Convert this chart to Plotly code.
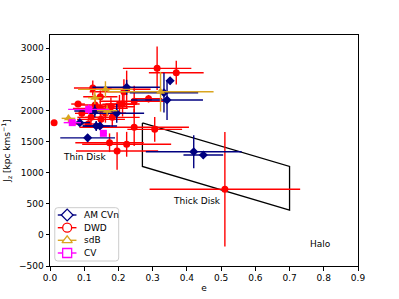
import plotly.graph_objects as go

# AM CVn
amcvn_e = [0.087, 0.110, 0.135, 0.146, 0.131, 0.195, 0.224, 0.333, 0.351, 0.342, 0.420, 0.448]
amcvn_e_err = [0.030, 0.080, 0.040, 0.050, 0.060, 0.080, 0.100, 0.100, 0.010, 0.105, 0.140, 0.058]
amcvn_J = [1805, 1560, 1750, 1750, 1992, 1955, 2373, 2286, 2479, 2169, 1337, 1284]
amcvn_J_err = [40, 60, 80, 60, 100, 150, 120, 320, 60, 320, 265, 60]

# DWD
dwd_e = [0.012, 0.082, 0.093, 0.125, 0.120, 0.112, 0.147, 0.132, 0.147, 0.149, 0.162, 0.178, 0.182,
         0.174, 0.224, 0.196, 0.216, 0.224, 0.212, 0.203, 0.246, 0.246, 0.288, 0.306, 0.313, 0.369, 0.511]
dwd_e_err = [0.000, 0.020, 0.020, 0.055, 0.040, 0.040, 0.050, 0.060, 0.080, 0.070, 0.060, 0.070, 0.080,
             0.100, 0.130, 0.120, 0.100, 0.070, 0.050, 0.050, 0.100, 0.160, 0.040, 0.080, 0.100, 0.080, 0.220]
dwd_J = [1805, 2104, 1955, 2362, 1890, 1783, 2222, 2088, 2035, 1858, 1955, 2061, 1890,
         1482, 1457, 1349, 2302, 2341, 2104, 2100, 2148, 1730, 2190, 1697, 2678, 2608, 733]
dwd_J_err = [0, 40, 50, 120, 80, 60, 100, 100, 120, 150, 150, 150, 150,
             150, 200, 300, 200, 300, 200, 150, 250, 300, 60, 200, 350, 190, 920]

# sdB
sdb_e = [0.054, 0.131, 0.162, 0.167, 0.323]
sdb_e_err = [0.020, 0.020, 0.080, 0.030, 0.155]
sdb_J = [1874, 2206, 2340, 1997, 2302]
sdb_J_err = [60, 100, 130, 80, 320]

# CV
cv_e = [0.065, 0.113, 0.156]
cv_e_err = [0.025, 0.060, 0.010]
cv_J = [1805, 2019, 1633]
cv_J_err = [40, 80, 30]

# Thick-disk region polygon
box_e = [0.27, 0.70, 0.70, 0.27, 0.27]
box_J = [1800, 1100, 400, 1100, 1800]

legend_names = ["AM CVn", "DWD", "sdB", "CV"]

series = {
    "DWD": (dwd_e, dwd_e_err, dwd_J, dwd_J_err, "red", "circle", 7),
    "AM CVn": (amcvn_e, amcvn_e_err, amcvn_J, amcvn_J_err, "#000080", "diamond", 7),
    "sdB": (sdb_e, sdb_e_err, sdb_J, sdb_J_err, "#DAA520", "triangle-up", 8),
    "CV": (cv_e, cv_e_err, cv_J, cv_J_err, "#FF00FF", "square", 7),
}
draw_order = ["DWD", "AM CVn", "sdB", "CV"]

fig = go.Figure()
fig.add_trace(go.Scatter(x=box_e, y=box_J, mode="lines", line=dict(color="black", width=1.3),
                         showlegend=False, hoverinfo="skip"))

for name in draw_order:
    ex, exe, jy, jye, col, sym, sz = series[name]
    fig.add_trace(go.Scatter(
        x=ex, y=jy, mode="markers", showlegend=False, name=name,
        marker=dict(color=col, symbol=sym, size=sz, line=dict(width=0)),
        error_x=dict(type="data", array=exe, color=col, thickness=1.4, width=0),
        error_y=dict(type="data", array=jye, color=col, thickness=1.4, width=0),
    ))

font = dict(family="DejaVu Sans", size=9, color="black")

# Manual legend (matplotlib-like, compact) on an overlay axis in plot-area fractions
L, R, T, B = 49.5, 358.0, 35.0, 266.0   # plot area in pixels
fx = lambda px: (px - L) / (R - L)
fy = lambda py: (B - py) / (B - T)
box_l, box_r, box_t, box_b = fx(54.3), fx(118.3), fy(207.7), fy(261)
rad_x, rad_y = 3 / (R - L), 3 / (B - T)
path = (f"M {box_l+rad_x},{box_b} L {box_r-rad_x},{box_b} Q {box_r},{box_b} {box_r},{box_b+rad_y} "
        f"L {box_r},{box_t-rad_y} Q {box_r},{box_t} {box_r-rad_x},{box_t} "
        f"L {box_l+rad_x},{box_t} Q {box_l},{box_t} {box_l},{box_t-rad_y} "
        f"L {box_l},{box_b+rad_y} Q {box_l},{box_b} {box_l+rad_x},{box_b} Z")
fig.add_shape(type="path", path=path, xref="x2", yref="y2", fillcolor="white",
              line=dict(color="#cccccc", width=1), layer="below")

entry_y = [215.0, 227.7, 240.3, 253.0]
for name, py in zip(legend_names, entry_y):
    ex, exe, jy, jye, col, sym, sz = series[name]
    fig.add_trace(go.Scatter(x=[fx(57.3), fx(76.0)], y=[fy(py), fy(py)], xaxis="x2", yaxis="y2",
                             mode="lines", line=dict(color=col, width=1.4), showlegend=False,
                             hoverinfo="skip"))
    fig.add_trace(go.Scatter(x=[fx(66.7)], y=[fy(py)], xaxis="x2", yaxis="y2", mode="markers",
                             marker=dict(color="white", symbol=sym, size=9, line=dict(color=col, width=1.3)),
                             showlegend=False, hoverinfo="skip"))
    fig.add_annotation(x=fx(81.5), y=fy(py), xref="x2", yref="y2", text=name, showarrow=False,
                       xanchor="left", yanchor="middle", font=font)

fig.add_annotation(x=0.031, y=1252, text="Thin Disk", showarrow=False, xanchor="left", yanchor="middle", font=font)
fig.add_annotation(x=0.353, y=545, text="Thick Disk", showarrow=False, xanchor="left", yanchor="middle", font=font)
fig.add_annotation(x=0.753, y=-143, text="Halo", showarrow=False, xanchor="left", yanchor="middle", font=font)

axis_common = dict(showline=True, linecolor="black", linewidth=1, mirror=True, ticks="outside",
                   ticklen=3.5, tickwidth=1, tickcolor="black", showgrid=False, zeroline=False,
                   tickfont=font, automargin=False)
fig.update_xaxes(range=[0, 0.9], tickvals=[0, 0.1, 0.2, 0.3, 0.4, 0.5, 0.6, 0.7, 0.8, 0.9],
                 ticktext=["0.0", "0.1", "0.2", "0.3", "0.4", "0.5", "0.6", "0.7", "0.8", "0.9"],
                 title=dict(text="e", font=font, standoff=2), **axis_common)
fig.update_yaxes(range=[-500, 3214], tickvals=[-500, 0, 500, 1000, 1500, 2000, 2500, 3000],
                 ticktext=["\u2212500", "0", "500", "1000", "1500", "2000", "2500", "3000"],
                 title=dict(text="J<sub>z</sub> [kpc kms<sup>\u22121</sup>]", font=font, standoff=7),
                 **axis_common)

fig.update_layout(
    width=399, height=299,
    margin=dict(l=50, r=41, t=35, b=33),
    paper_bgcolor="white", plot_bgcolor="white",
    font=font, showlegend=False,
    xaxis2=dict(overlaying="x", range=[0, 1], visible=False, fixedrange=True),
    yaxis2=dict(overlaying="y", range=[0, 1], visible=False, fixedrange=True),
)

fig.write_html("out.html", config={"displayModeBar": False},
               post_script="document.body.style.margin='0';")
